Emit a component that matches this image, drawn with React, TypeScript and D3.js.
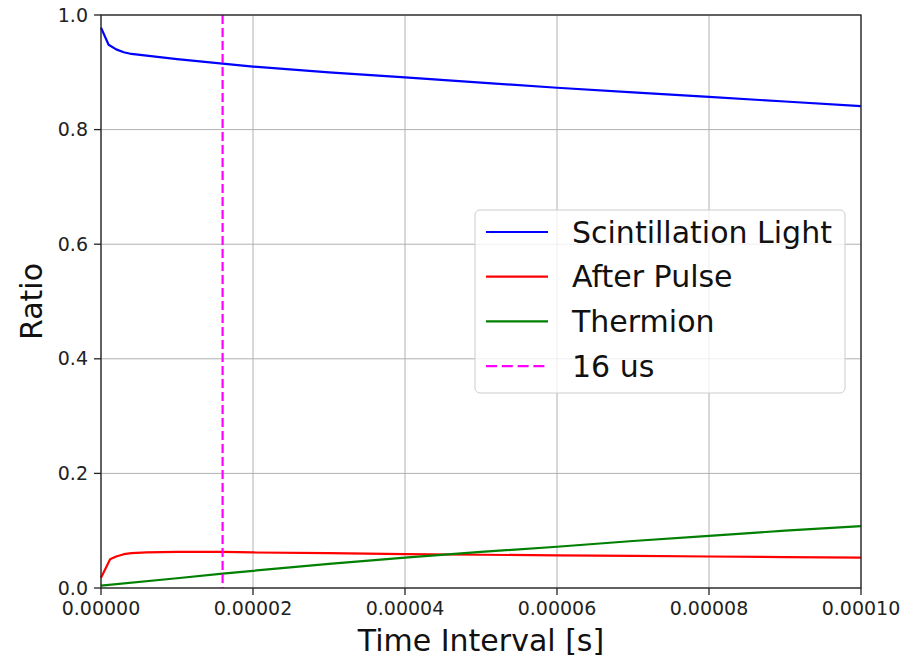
import React from "react";
import * as d3 from "d3";

// time in microseconds, ratio
const scintT = [0, 1, 2, 3, 4, 6, 8, 10, 16, 20, 30, 40, 50, 60, 70, 80, 90, 100];
const scintV = [0.978, 0.948, 0.94, 0.935, 0.932, 0.929, 0.926, 0.923, 0.915, 0.91, 0.9, 0.891, 0.882, 0.873, 0.865, 0.857, 0.849, 0.841];

const pulseT = [0, 1.2, 2, 3, 4, 6, 10, 16, 20, 30, 40, 50, 60, 70, 80, 90, 100];
const pulseV = [0.018, 0.05, 0.055, 0.059, 0.061, 0.062, 0.063, 0.063, 0.062, 0.061, 0.059, 0.058, 0.057, 0.056, 0.055, 0.054, 0.053];

const thermT = [0, 10, 16, 20, 30, 40, 50, 60, 70, 80, 90, 100];
const thermV = [0.004, 0.017, 0.025, 0.03, 0.042, 0.053, 0.063, 0.072, 0.082, 0.091, 0.1, 0.108];

const cutT = 16;
const xTicks = [0, 0.00002, 0.00004, 0.00006, 0.00008, 0.0001];
const yTicks = [0, 0.2, 0.4, 0.6, 0.8, 1.0];

const legendItems = [
  { label: "Scintillation Light", color: "#0000ff", dash: "" },
  { label: "After Pulse", color: "#ff0000", dash: "" },
  { label: "Thermion", color: "#008000", dash: "" },
  { label: "16 us", color: "#ff00ff", dash: "11,4.8" },
];

const font = "DejaVu Sans, sans-serif";

export default function App() {
  const left = 101, right = 861, top = 15, bottom = 588;
  const x = d3.scaleLinear().domain([0, 0.0001]).range([left, right]);
  const y = d3.scaleLinear().domain([0, 1]).range([bottom, top]);

  const line = d3
    .line<[number, number]>()
    .x((d) => x(d[0] * 1e-6))
    .y((d) => y(d[1]));

  const series = [
    { t: scintT, v: scintV, color: "#0000ff" },
    { t: pulseT, v: pulseV, color: "#ff0000" },
    { t: thermT, v: thermV, color: "#008000" },
  ];

  const lx = 475, ly = 210, lw = 370, lh = 183;
  const rowH = 44.7;

  return (
    <svg
      width={923}
      height={659}
      style={{ position: "absolute", left: 0, top: 0, background: "#fff" }}
      fontFamily={font}
    >
      {/* grid */}
      {xTicks.map((t) => (
        <line key={"gx" + t} x1={x(t)} x2={x(t)} y1={top} y2={bottom} stroke="#b0b0b0" strokeWidth={1} />
      ))}
      {yTicks.map((t) => (
        <line key={"gy" + t} x1={left} x2={right} y1={y(t)} y2={y(t)} stroke="#b0b0b0" strokeWidth={1} />
      ))}

      {series.map((s, i) => (
        <path
          key={i}
          d={line(s.t.map((t, j) => [t, s.v[j]] as [number, number])) || ""}
          fill="none"
          stroke={s.color}
          strokeWidth={2.2}
          strokeLinejoin="round"
        />
      ))}
      <line
        x1={x(cutT * 1e-6)}
        x2={x(cutT * 1e-6)}
        y1={top}
        y2={bottom}
        stroke="#ff00ff"
        strokeWidth={2.2}
        strokeDasharray="9,4"
      />

      {/* spines */}
      <rect x={left} y={top} width={right - left} height={bottom - top} fill="none" stroke="#222" strokeWidth={1.3} />

      {/* x ticks */}
      {xTicks.map((t) => (
        <g key={"tx" + t} transform={`translate(${x(t)},${bottom})`}>
          <line y2={7} stroke="#222" strokeWidth={1.3} />
          <text y={27} textAnchor="middle" fontSize={19} fill="#222">
            {t.toFixed(5)}
          </text>
        </g>
      ))}
      {/* y ticks */}
      {yTicks.map((t) => (
        <g key={"ty" + t} transform={`translate(${left},${y(t)})`}>
          <line x2={-7} stroke="#222" strokeWidth={1.3} />
          <text x={-13} dy="0.35em" textAnchor="end" fontSize={19} fill="#222">
            {t.toFixed(1)}
          </text>
        </g>
      ))}

      <text x={(left + right) / 2} y={651} textAnchor="middle" fontSize={30} fill="#111">
        Time Interval [s]
      </text>
      <text
        transform={`translate(42,${(top + bottom) / 2}) rotate(-90)`}
        textAnchor="middle"
        fontSize={30}
        fill="#111"
      >
        Ratio
      </text>

      {/* legend */}
      <rect x={lx} y={ly} width={lw} height={lh} rx={5} fill="#fff" fillOpacity={0.8} stroke="#cccccc" strokeWidth={1} />
      {legendItems.map((d, i) => {
        const cy = ly + 22 + i * rowH;
        return (
          <g key={d.label}>
            <line x1={486} x2={548} y1={cy} y2={cy} stroke={d.color} strokeWidth={2.2} strokeDasharray={d.dash} />
            <text x={572} y={cy} dy="0.35em" fontSize={30} fill="#111">
              {d.label}
            </text>
          </g>
        );
      })}
    </svg>
  );
}
